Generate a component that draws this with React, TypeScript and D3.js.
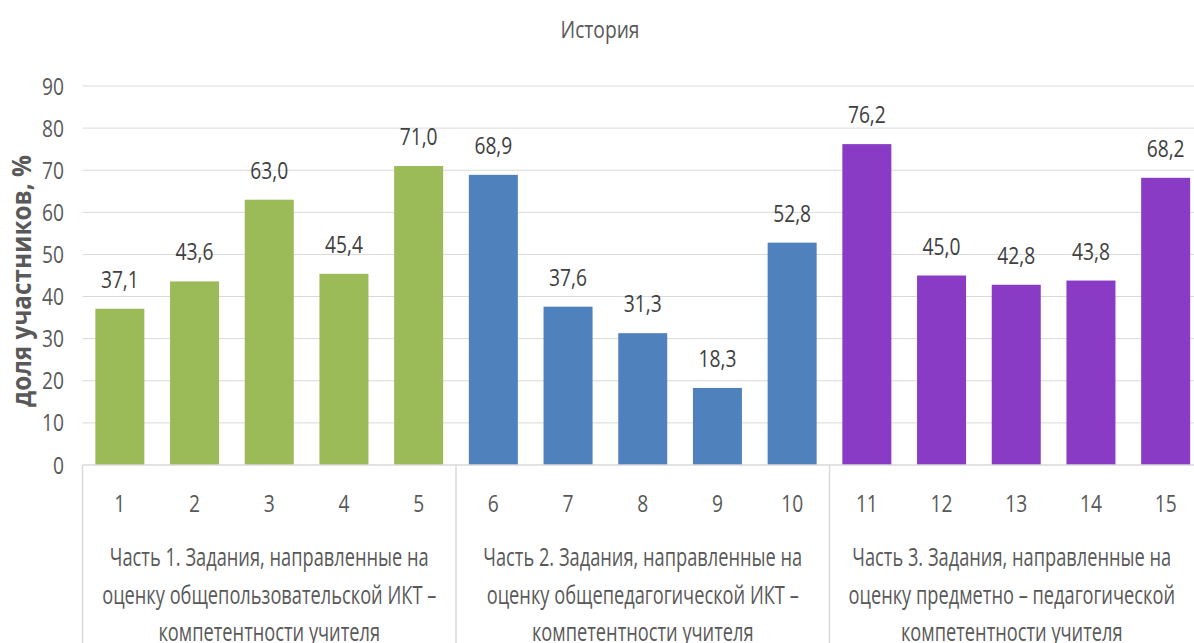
import React from "react";
import * as d3 from "d3";

const title = "История";
const yAxisLabel = "доля участников, %";
const tasks = ["1", "2", "3", "4", "5", "6", "7", "8", "9", "10", "11", "12", "13", "14", "15"];
const values = [37.1, 43.6, 63.0, 45.4, 71.0, 68.9, 37.6, 31.3, 18.3, 52.8, 76.2, 45.0, 42.8, 43.8, 68.2];
const groupOf = [0, 0, 0, 0, 0, 1, 1, 1, 1, 1, 2, 2, 2, 2, 2];
const groupLabels = [
  ["Часть 1. Задания, направленные на", "оценку общепользовательской ИКТ –", "компетентности учителя"],
  ["Часть 2. Задания, направленные на", "оценку общепедагогической ИКТ –", "компетентности учителя"],
  ["Часть 3. Задания, направленные на", "оценку предметно – педагогической", "компетентности учителя"],
];
const groupColors = ["#9bbb59", "#4f81bd", "#8a3bc5"];
const yTicks = [0, 10, 20, 30, 40, 50, 60, 70, 80, 90];

const W = 1194;
const H = 643;
const left = 82.5;
const right = 1203;
const top = 86;
const bottom = 465;
const font = "'Open Sans', sans-serif";
const textColor = "#595959";

// condensed text: Open Sans squeezed horizontally
function NarrowText({
  x,
  y,
  children,
  size = 24,
  sx = 0.8,
  anchor = "middle",
  fill = textColor,
}: {
  x: number;
  y: number;
  children: React.ReactNode;
  size?: number;
  sx?: number;
  anchor?: string;
  fill?: string;
}) {
  return (
    <text
      transform={`translate(${x},${y}) scale(${sx},1)`}
      textAnchor={anchor}
      fontFamily={font}
      fontSize={size}
      fill={fill}
    >
      {children}
    </text>
  );
}

export default function App() {
  const x = d3.scaleBand<string>().domain(tasks).range([left, right]).paddingInner(0.344).paddingOuter(0.172);
  const y = d3.scaleLinear().domain([0, 90]).range([bottom, top]);
  const fmt = (v: number) => v.toFixed(1).replace(".", ",");

  const step = (right - left) / 15;
  const groupEdges = [0, 5, 10, 15].map((i) => left + i * step);

  return (
    <svg width={W} height={H} style={{ position: "absolute", left: 0, top: 0 }}>
      <rect width={W} height={H} fill="#ffffff" />
      <NarrowText x={600} y={38} size={24}>
        {title}
      </NarrowText>
      {yTicks.map((t) => (
        <g key={t}>
          {t > 0 && <line x1={left} x2={W} y1={y(t)} y2={y(t)} stroke="#d9d9d9" strokeWidth={1} />}
          <NarrowText x={64} y={y(t) + 8.5} anchor="end">
            {t}
          </NarrowText>
        </g>
      ))}
      <text
        transform={`translate(31,${281}) rotate(-90) scale(0.9,1)`}
        textAnchor="middle"
        fontFamily={font}
        fontWeight="bold"
        fontSize={27}
        fill={textColor}
      >
        {yAxisLabel}
      </text>
      {tasks.map((t, i) => {
        const cx = (x(t) as number) + x.bandwidth() / 2;
        return (
          <g key={t}>
            <rect
              x={x(t)}
              y={y(values[i])}
              width={x.bandwidth()}
              height={y(0) - y(values[i])}
              fill={groupColors[groupOf[i]]}
            />
            <NarrowText x={cx} y={y(values[i]) - 21} fill="#404040">
              {fmt(values[i])}
            </NarrowText>
            <NarrowText x={cx} y={512}>
              {t}
            </NarrowText>
          </g>
        );
      })}
      <line x1={left} x2={W} y1={bottom} y2={bottom} stroke="#d9d9d9" strokeWidth={1.5} />
      {groupEdges.map((gx, i) => (
        <line key={i} x1={gx} x2={gx} y1={bottom} y2={H} stroke="#d9d9d9" strokeWidth={1.5} />
      ))}
      {groupLabels.map((lines, g) => {
        const cx = (groupEdges[g] + Math.min(groupEdges[g + 1], W)) / 2;
        return (
          <g key={g}>
            {lines.map((ln, k) => (
              <NarrowText key={k} x={cx} y={566 + k * 37.5} size={25} sx={0.73}>
                {ln}
              </NarrowText>
            ))}
          </g>
        );
      })}
    </svg>
  );
}
